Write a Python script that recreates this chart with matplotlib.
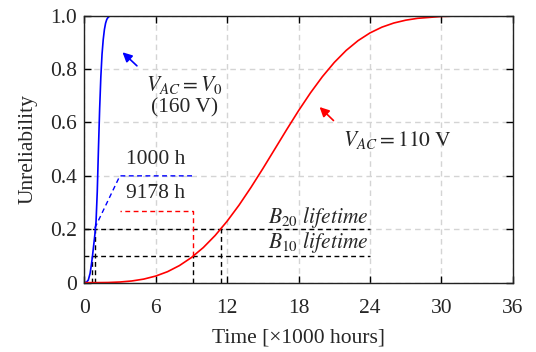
import matplotlib
matplotlib.use("Agg")
import matplotlib.pyplot as plt

plt.rcParams['font.family'] = ['Liberation Serif', 'DejaVu Serif']
plt.rcParams['mathtext.fontset'] = 'stix'
plt.rcParams['text.color'] = '#262626'
plt.rcParams['axes.labelcolor'] = '#262626'
plt.rcParams['xtick.labelcolor'] = '#262626'
plt.rcParams['ytick.labelcolor'] = '#262626'

# Blue curve: V_AC = V0 (160 V)
blue_t = [0, 0.2, 0.35, 0.5, 0.6, 0.7, 0.8, 0.9, 1.0, 1.1, 1.2, 1.3, 1.4, 1.5,
          1.6, 1.7, 1.8, 1.9, 2.0, 2.1, 2.2, 2.35, 36]
blue_f = [0, 0.002, 0.01, 0.035, 0.065, 0.1, 0.14, 0.18, 0.23, 0.34, 0.5, 0.65,
          0.77, 0.855, 0.91, 0.948, 0.972, 0.986, 0.993, 0.997, 0.999, 1.0, 1.0]

# Red curve: V_AC = 110 V
red_t = [0, 1, 2, 3, 4, 5, 6, 7, 8, 9, 10, 11, 12, 13, 14, 15, 16, 17, 18, 19,
         20, 21, 22, 23, 24, 25, 26, 27, 28, 30, 32, 34, 36]
red_f = [0, 0.0001, 0.0006, 0.0024, 0.0063, 0.0133, 0.0246, 0.0411, 0.064,
         0.0939, 0.1313, 0.1768, 0.23, 0.2901, 0.3564, 0.4269, 0.4999, 0.573,
         0.6441, 0.7108, 0.7715, 0.8248, 0.8699, 0.9066, 0.9354, 0.957, 0.9725,
         0.9831, 0.9901, 0.9971, 0.9993, 0.9999, 1.0]

# lifetime markers (x1000 h)
blue_b10, blue_b20 = 0.7, 0.95
red_b10, red_b20 = 9.178, 11.5
b_levels = [0.1, 0.2]
b_line_end = 24

xticks = [0, 6, 12, 18, 24, 30, 36]
yticks = [0, 0.2, 0.4, 0.6, 0.8, 1.0]
ytick_labels = ['0', '0.2', '0.4', '0.6', '0.8', '1.0']

fig = plt.figure(figsize=(5.36, 3.52), dpi=100)
ax = fig.add_axes([0.157, 0.197, 0.80, 0.7585])

ax.grid(True, color='#d4d4d4', linestyle=(0, (4, 3)), linewidth=1.0)
ax.set_axisbelow(True)

dash = (0, (3.5, 2.5))
for lvl in b_levels:
    ax.plot([0, b_line_end], [lvl, lvl], color='black', linestyle=dash, linewidth=1.0)
ax.plot([blue_b10, blue_b10], [0, 0.1], color='black', linestyle=dash, linewidth=1.0)
ax.plot([blue_b20, blue_b20], [0, 0.2], color='black', linestyle=dash, linewidth=1.0)
ax.plot([red_b10, red_b10], [0, 0.1], color='black', linestyle=dash, linewidth=1.0)
ax.plot([red_b20, red_b20], [0, 0.2], color='black', linestyle=dash, linewidth=1.0)

ax.plot([0.9, 3.0, 9.1], [0.205, 0.4, 0.4], color='blue', linestyle=dash, linewidth=1.0)
ax.plot([red_b10 - 0.05, red_b10 - 0.05, 3.0], [0.1, 0.27, 0.27], color='red',
        linestyle=dash, linewidth=1.0)

ax.plot(blue_t, blue_f, color='blue', linewidth=1.2)
ax.plot(red_t, red_f, color='red', linewidth=1.2)

fs = 15.5
ax.text(6.0, 0.46, '1000 h', fontsize=fs, ha='center', va='center')
ax.text(6.0, 0.335, '9178 h', fontsize=fs, ha='center', va='center')
ax.text(23.9, 0.245, r'$\mathit{B}_{\mathit{20}}$ $\mathit{lifetime}$', fontsize=fs,
        ha='right', va='center')
ax.text(23.9, 0.152, r'$\mathit{B}_{\mathit{10}}$ $\mathit{lifetime}$', fontsize=fs,
        ha='right', va='center')

ax.annotate('', xy=(3.05, 0.87), xytext=(4.6, 0.805),
            arrowprops=dict(arrowstyle='-|>', color='blue', lw=1.2, mutation_scale=14))
ax.text(8.4, 0.74, r'$V_{AC}=V_0$', fontsize=fs, ha='center', va='center')
ax.text(8.4, 0.655, '(160 V)', fontsize=fs, ha='center', va='center')

ax.annotate('', xy=(19.6, 0.665), xytext=(21.1, 0.6),
            arrowprops=dict(arrowstyle='-|>', color='red', lw=1.2, mutation_scale=14))
ax.text(26.3, 0.535, r'$V_{AC}=110\ \mathrm{V}$', fontsize=fs, ha='center', va='center')

ax.set_xlim(0, 36)
ax.set_ylim(0, 1.0)
ax.set_xticks(xticks)
ax.set_yticks(yticks)
ax.set_yticklabels(ytick_labels)
ax.tick_params(direction='in', top=True, right=True, length=5, width=1.0,
               labelsize=fs)
ax.tick_params(axis='x', pad=11.5)
ax.tick_params(axis='y', pad=5)
for s in ax.spines.values():
    s.set_linewidth(1.0)
    s.set_color('#222222')
ax.set_xlabel('Time [×1000 hours]', fontsize=fs, labelpad=7.5)
ax.set_ylabel('Unreliability', fontsize=fs, labelpad=9)

fig.savefig('out.png', dpi=100)
